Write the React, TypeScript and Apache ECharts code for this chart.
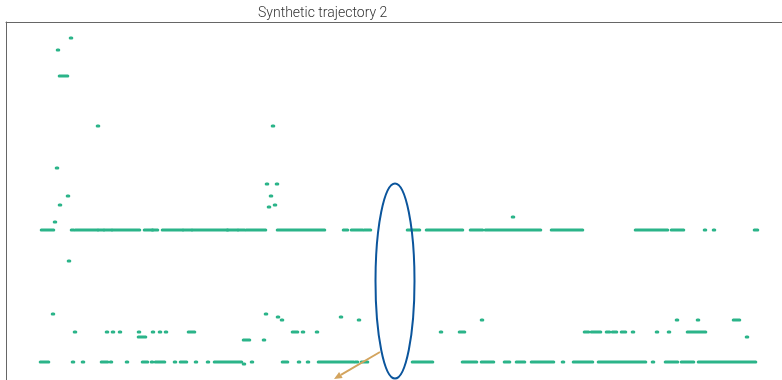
import React, { useEffect, useRef } from "react";
import * as echarts from "echarts";

// Synthetic trajectory: time (x) vs state (y). Each run = [tStart, tEnd, state]
const TITLE = "Synthetic trajectory 2";

const upperLevel = 150;
const upperLevelRuns: [number, number][] = [
  [42, 53], [72, 73], [76, 97], [99, 103], [105, 111], [113, 139], [145, 152], [153, 157],
  [163, 182], [184, 191], [193, 227], [228, 237], [239, 244], [247, 265], [278, 324],
  [344, 347], [352, 362], [365, 370], [408, 419], [427, 462], [471, 482], [486, 540],
  [552, 582], [636, 667], [672, 683], [705, 705], [714, 714], [755, 757],
];

const middleLevel = 48;
const middleLevelRuns: [number, number][] = [
  [75, 75], [107, 107], [113, 113], [120, 120], [139, 139], [153, 153], [160, 160], [166, 166],
  [189, 194], [293, 297], [303, 303], [317, 317], [441, 441], [460, 464], [585, 588],
  [592, 600], [607, 609], [613, 616], [622, 625], [633, 633], [657, 657], [669, 669], [688, 705],
];

const lowerLevel = 18;
const lowerLevelRuns: [number, number][] = [
  [41, 48], [73, 73], [83, 83], [102, 107], [111, 111], [127, 127], [143, 147], [152, 152],
  [156, 164], [175, 175], [181, 186], [196, 196], [208, 208], [215, 241], [252, 252],
  [283, 287], [299, 299], [308, 308], [319, 353], [356, 357], [362, 367], [413, 432],
  [463, 476], [482, 493], [505, 509], [517, 524], [532, 553], [563, 563], [574, 592],
  [599, 645], [653, 653], [666, 677], [682, 693], [699, 755],
];

// isolated excursions: [tStart, tEnd, state]
const excursions: [number, number, number][] = [
  [71, 71, 342], [58, 58, 330], [60, 67, 304], [98, 98, 254], [273, 273, 254],
  [57, 57, 212], [68, 68, 184], [60, 60, 175], [55, 55, 158], [69, 69, 119],
  [267, 267, 196], [277, 277, 196], [271, 271, 184], [269, 269, 173], [275, 275, 175],
  [513, 513, 163],
  [53, 53, 66], [266, 266, 66], [278, 278, 63], [341, 341, 63],
  [282, 282, 60], [359, 359, 60], [482, 482, 60], [677, 677, 60], [698, 698, 60], [734, 739, 60],
  [139, 145, 43], [747, 747, 43], [244, 249, 40], [264, 264, 40], [244, 244, 16],
];

// annotations in data coordinates
const ellipseCenter: [number, number] = [395, 99];
const ellipseRadii: [number, number] = [19.5, 97.5];
const arrowFrom: [number, number] = [380, 28];
const arrowTo: [number, number] = [334, 1];

const GREEN = "#2bb489";

export default function App() {
  const ref = useRef<HTMLDivElement>(null);
  useEffect(() => {
    if (!ref.current) return;
    const chart = echarts.init(ref.current, null, { renderer: "svg" });
    const runs: [number, number, number][] = [
      ...upperLevelRuns.map(([a, b]) => [a, b, upperLevel] as [number, number, number]),
      ...middleLevelRuns.map(([a, b]) => [a, b, middleLevel] as [number, number, number]),
      ...lowerLevelRuns.map(([a, b]) => [a, b, lowerLevel] as [number, number, number]),
      ...excursions,
    ];
    chart.setOption({
      animation: false,
      title: {
        text: TITLE,
        left: 258,
        top: 5,
        padding: 0,
        textStyle: { fontFamily: "Roboto", fontWeight: 300, fontSize: 14, color: "#333" },
      },
      grid: { left: 6, right: 0, top: 22, bottom: 0 },
      xAxis: {
        type: "value",
        min: 6,
        max: 800,
        position: "top",
        axisLine: { show: true, onZero: false, lineStyle: { color: "#666", width: 1 } },
        axisTick: { show: false },
        axisLabel: { show: false },
        splitLine: { show: false },
      },
      yAxis: {
        type: "value",
        min: 0,
        max: 358,
        axisLine: { show: true, onZero: false, lineStyle: { color: "#666", width: 1 } },
        axisTick: { show: false },
        axisLabel: { show: false },
        splitLine: { show: false },
      },
      series: [
        {
          type: "custom",
          encode: { x: [0, 1], y: 2 },
          data: runs,
          renderItem: (params: any, api: any) => {
            const p1 = api.coord([api.value(0), api.value(2)]);
            const p2 = api.coord([api.value(1), api.value(2)]);
            return {
              type: "rect",
              shape: { x: p1[0] - 2.3, y: p1[1] - 1.5, width: p2[0] - p1[0] + 4.6, height: 3, r: 1.5 },
              style: { fill: GREEN },
            };
          },
        },
      ],
    });
    const c = chart.convertToPixel({ gridIndex: 0 }, ellipseCenter) as number[];
    const top = chart.convertToPixel({ gridIndex: 0 }, [ellipseCenter[0] + ellipseRadii[0], ellipseCenter[1] + ellipseRadii[1]]) as number[];
    const rx = Math.abs(top[0] - c[0]);
    const ry = Math.abs(top[1] - c[1]);
    const a = chart.convertToPixel({ gridIndex: 0 }, arrowFrom) as number[];
    const b = chart.convertToPixel({ gridIndex: 0 }, arrowTo) as number[];
    const dx = b[0] - a[0], dy = b[1] - a[1];
    const len = Math.hypot(dx, dy);
    const ux = dx / len, uy = dy / len;
    const hl = 8, hw = 3.5;
    const base = [b[0] - ux * hl, b[1] - uy * hl];
    const head = [
      [b[0], b[1]],
      [base[0] - uy * hw, base[1] + ux * hw],
      [base[0] + uy * hw, base[1] - ux * hw],
    ];
    chart.setOption({
      graphic: [
        {
          type: "ellipse",
          shape: { cx: c[0], cy: c[1], rx, ry },
          style: { fill: "none", stroke: "#0b559c", lineWidth: 2 },
          z: 10,
        },
        {
          type: "line",
          shape: { x1: a[0], y1: a[1], x2: base[0], y2: base[1] },
          style: { stroke: "#d3a45e", lineWidth: 2 },
          z: 10,
        },
        {
          type: "polygon",
          shape: { points: head },
          style: { fill: "#d3a45e" },
          z: 10,
        },
      ],
    });
    return () => chart.dispose();
  }, []);
  return (
    <div style={{ position: "fixed", left: 0, top: 0, width: 782, height: 380, overflow: "hidden" }}>
      <div ref={ref} style={{ width: 800, height: 380 }} />
    </div>
  );
}
